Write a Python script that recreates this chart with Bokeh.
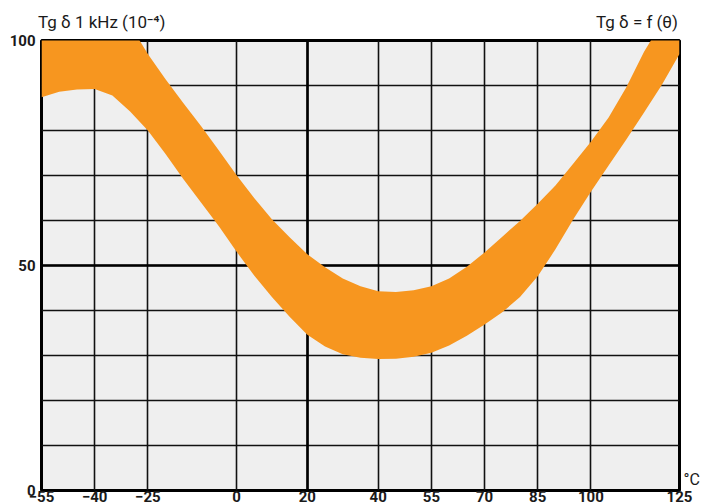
from bokeh.plotting import figure
from bokeh.models import Range1d, FixedTicker, Grid, LinearAxis
from bokeh.embed import file_html
from bokeh.resources import INLINE

# Temperature (°C) and Tg δ at 1 kHz (10^-4): lower and upper edges of the band
temps = [-55, -50, -45, -40, -35, -30, -25, -20, -15, -10, -5, 0, 5, 10, 15, 20, 25, 30, 35,
         40, 45, 50, 55, 60, 65, 70, 75, 80, 85, 90, 95, 100, 105, 110, 115, 120, 125]
tg_low = [87.4, 88.6, 89.1, 89.2, 87.8, 84.2, 80.0, 74.8, 69.2, 64.0, 58.8, 53.1, 47.8, 43.0,
          38.6, 34.6, 32.0, 30.3, 29.5, 29.2, 29.3, 29.7, 30.6, 32.2, 34.4, 36.9, 39.6, 43.0,
          47.6, 53.6, 60.2, 66.4, 72.2, 78.0, 84.0, 90.1, 97.0]
tg_high = [112.0, 113.0, 113.0, 112.0, 109.0, 103.5, 97.0, 91.4, 86.1, 81.0, 75.6, 70.1, 65.0,
           60.3, 56.3, 52.5, 49.6, 47.1, 45.4, 44.3, 44.1, 44.5, 45.4, 47.1, 49.7, 52.9, 56.4,
           59.9, 63.7, 67.8, 72.6, 77.5, 82.9, 89.6, 97.5, 104.0, 111.0]

x_ticks = [-55, -40, -25, 0, 20, 40, 55, 70, 85, 100, 125]
y_ticks = [0, 50, 100]
y_grid = [0, 10, 20, 30, 40, 50, 60, 70, 80, 90, 100]
x_heavy = [20]
y_heavy = [50]

title_left = "Tg δ 1 kHz (10⁻⁴)"
title_right = "Tg δ = f (θ)"
unit_label = "°C"

# anchor points (axis units) where the header texts and the unit text are centred
TITLE_LEFT_AT = -38
TITLE_RIGHT_AT = 113
UNIT_AT = 2.5

FONT = "Roboto"
TXT = "#1a1a1a"
ORANGE = "#F7961F"

p = figure(width=702, height=504, x_range=Range1d(-55, 125), y_range=Range1d(0, 100),
           output_backend="svg", toolbar_location=None,
           min_border_left=41, min_border_right=21, min_border_top=40, min_border_bottom=2)

p.background_fill_color = "#efefef"
p.border_fill_color = "white"
p.outline_line_color = "black"
p.outline_line_width = 3

p.varea(x=temps, y1=tg_low, y2=tg_high, fill_color=ORANGE)

# grids
p.xgrid.ticker = FixedTicker(ticks=x_ticks)
p.ygrid.ticker = FixedTicker(ticks=y_grid)
for g in (p.xgrid[0], p.ygrid[0]):
    g.grid_line_color = "#111111"
    g.grid_line_width = 1.6
p.add_layout(Grid(dimension=0, ticker=FixedTicker(ticks=x_heavy),
                  grid_line_color="black", grid_line_width=2.6))
p.add_layout(Grid(dimension=1, ticker=FixedTicker(ticks=y_heavy),
                  grid_line_color="black", grid_line_width=2.6))


def style_axis(ax, size="15px", weight="bold", standoff=6):
    ax.axis_line_color = None
    ax.major_tick_line_color = None
    ax.minor_tick_line_color = None
    ax.major_tick_out = 0
    ax.major_tick_in = 0
    ax.minor_tick_out = 0
    ax.minor_tick_in = 0
    ax.major_label_text_font = FONT
    ax.major_label_text_font_size = size
    ax.major_label_text_font_style = weight
    ax.major_label_text_color = TXT
    ax.major_label_standoff = standoff


p.xaxis.ticker = FixedTicker(ticks=x_ticks)
p.yaxis.ticker = FixedTicker(ticks=y_ticks)
style_axis(p.xaxis[0], standoff=0)
style_axis(p.yaxis[0], standoff=6)

# header texts (as an axis above the frame)
top = LinearAxis(ticker=FixedTicker(ticks=[TITLE_LEFT_AT, TITLE_RIGHT_AT]),
                 major_label_overrides={TITLE_LEFT_AT: title_left, TITLE_RIGHT_AT: title_right})
style_axis(top, size="17px", weight="normal", standoff=9)
p.add_layout(top, "above")

# unit text at the right end of the temperature axis
right = LinearAxis(ticker=FixedTicker(ticks=[UNIT_AT]), major_label_overrides={UNIT_AT: unit_label})
style_axis(right, size="16px", weight="normal", standoff=4)
p.add_layout(right, "right")

open("out.html", "w").write(file_html(p, INLINE))
